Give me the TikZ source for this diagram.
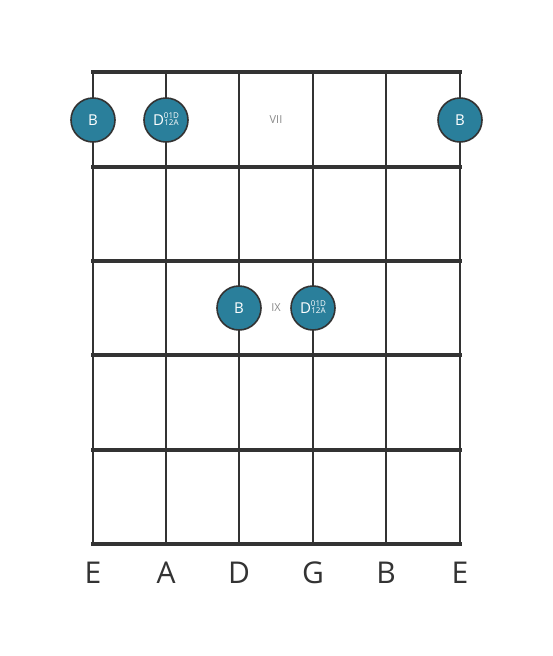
\documentclass[tikz,border=0pt]{standalone}
\usepackage{fontspec}
\setmainfont{Open Sans}
\definecolor{notefill}{HTML}{2A7F9B}
\definecolor{lineclr}{HTML}{333333}
\definecolor{posclr}{HTML}{8A8A8A}
\newcommand{\hexbox}{{\fontsize{8}{6.5}\selectfont\begin{tabular}[b]{@{}c@{}}01D\\12A\end{tabular}}}
\tikzset{
  x=1pt,y=-1pt,
  fret/.style={draw=lineclr,line width=4pt},
  gstring/.style={draw=lineclr,line width=2pt},
  note/.style={circle,draw=lineclr,line width=1.6pt,fill=notefill,minimum size=44pt,inner sep=0pt,text=white,font=\fontsize{15}{17}\selectfont},
  poslabel/.style={text=posclr,font=\fontsize{11}{13}\selectfont},
  strlabel/.style={text=lineclr,font=\fontsize{30}{34}\selectfont}
}
\begin{document}
\begin{tikzpicture}
\useasboundingbox (0,0) rectangle (553,656);
\fill[white] (0,0) rectangle (553,656);
% strings
\foreach \x/\n in {93/s1,166/s2,239/s3,313/s4,386/s5,460/s6}{
  \coordinate (\n t) at (\x,72);
  \coordinate (\n b) at (\x,544);
  \draw[gstring] (\n t) -- (\n b);
}
% frets
\foreach \y/\n in {72/f0,167/f1,261/f2,355/f3,450/f4,544/f5}{
  \coordinate (\n l) at (91,\y);
  \coordinate (\n r) at (462,\y);
  \draw[fret] (\n l) -- (\n r);
}
% position labels
\node[poslabel] (vii) at (276,120) {VII};
\node[poslabel] (ix) at (276,308) {IX};
% notes
\node[note] (n1) at (93,120) {B};
\node[note] (n2) at (166,120) {D\hexbox};
\node[note] (n3) at (460,120) {B};
\node[note] (n4) at (239,308) {B};
\node[note] (n5) at (313,308) {D\hexbox};
% string names
\foreach \x/\t/\n in {93/E/l1,166/A/l2,239/D/l3,313/G/l4,386/B/l5,460/E/l6}{
  \node[strlabel] (\n) at (\x,573) {\t};
}
\end{tikzpicture}
\end{document}
